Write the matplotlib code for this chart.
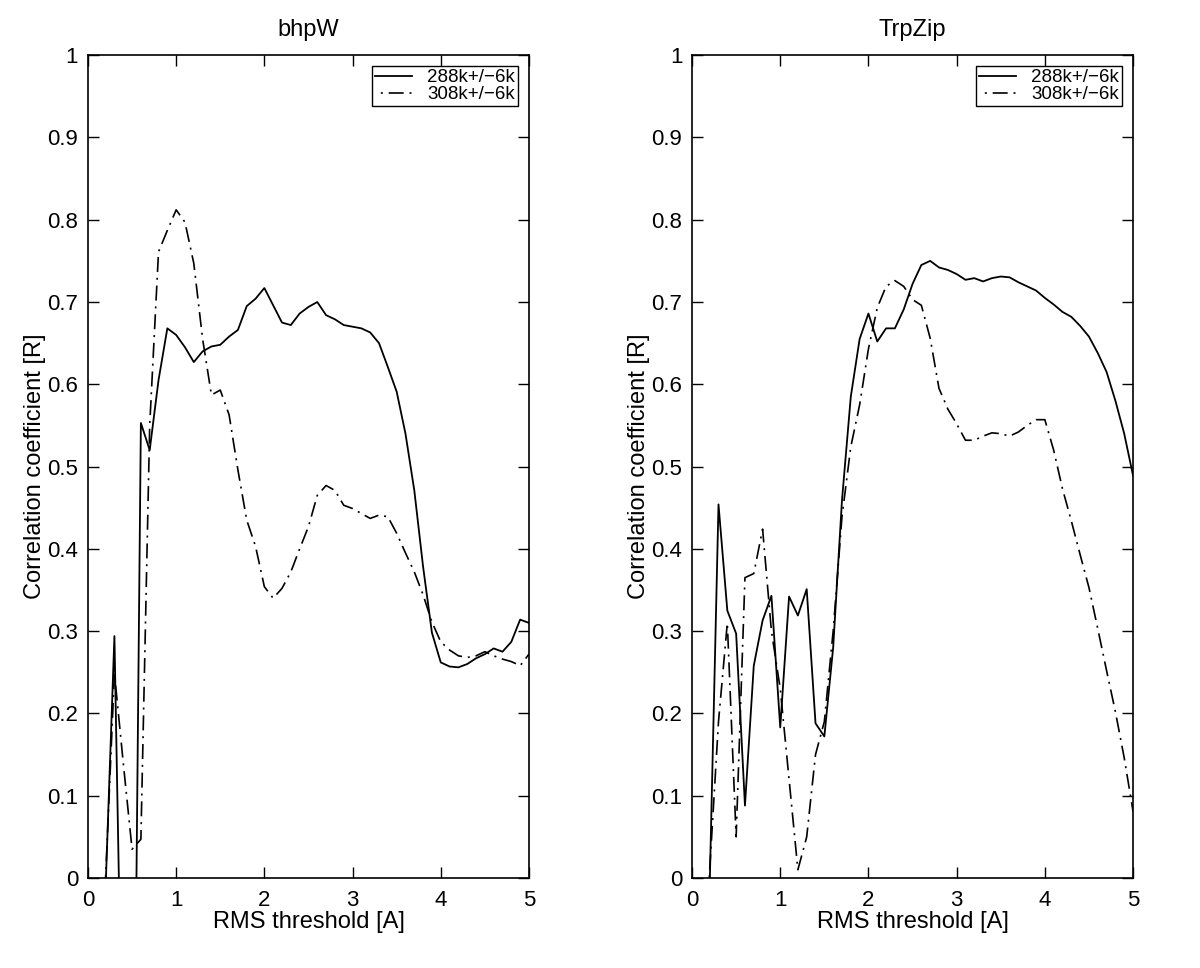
import numpy as np
import matplotlib
matplotlib.use("Agg")
import matplotlib.pyplot as plt

plt.rcParams['font.family'] = ['Liberation Sans', 'DejaVu Sans']

# RMS threshold grid
rms = np.round(np.arange(1, 51) * 0.1, 1)

# bhpW
bhpw_288 = [-0.20, -0.012, 0.294, -0.29, -0.55, 0.553, 0.520, 0.605, 0.668, 0.660,
            0.645, 0.627, 0.640, 0.646, 0.648, 0.658, 0.666, 0.695, 0.704, 0.717,
            0.696, 0.675, 0.672, 0.686, 0.694, 0.700, 0.684, 0.679, 0.672, 0.670,
            0.668, 0.663, 0.650, 0.621, 0.591, 0.540, 0.471, 0.378, 0.298, 0.262,
            0.257, 0.256, 0.260, 0.267, 0.272, 0.279, 0.275, 0.287, 0.314, 0.310]
bhpw_308 = [-0.10, 0.000, 0.249, 0.140, 0.035, 0.047, 0.550, 0.761, 0.787, 0.812,
            0.797, 0.747, 0.655, 0.587, 0.593, 0.563, 0.496, 0.435, 0.403, 0.354,
            0.340, 0.352, 0.372, 0.400, 0.427, 0.465, 0.477, 0.471, 0.453, 0.449,
            0.443, 0.437, 0.441, 0.439, 0.419, 0.395, 0.372, 0.344, 0.311, 0.287,
            0.277, 0.270, 0.268, 0.270, 0.275, 0.270, 0.266, 0.263, 0.258, 0.272]

# TrpZip
trp_288 = [-0.30, -0.010, 0.454, 0.325, 0.297, 0.088, 0.258, 0.313, 0.343, 0.183,
           0.342, 0.319, 0.351, 0.188, 0.172, 0.280, 0.459, 0.585, 0.655, 0.686,
           0.652, 0.668, 0.668, 0.691, 0.722, 0.745, 0.750, 0.742, 0.739, 0.734,
           0.727, 0.729, 0.725, 0.729, 0.731, 0.730, 0.724, 0.719, 0.714, 0.705,
           0.697, 0.688, 0.682, 0.671, 0.658, 0.638, 0.615, 0.580, 0.540, 0.489]
trp_308 = [-0.20, 0.010, 0.190, 0.310, 0.050, 0.365, 0.370, 0.424, 0.300, 0.230,
           0.120, 0.010, 0.050, 0.150, 0.190, 0.300, 0.439, 0.524, 0.575, 0.643,
           0.693, 0.719, 0.726, 0.719, 0.703, 0.696, 0.656, 0.595, 0.570, 0.552,
           0.532, 0.532, 0.537, 0.541, 0.540, 0.537, 0.542, 0.550, 0.557, 0.557,
           0.520, 0.473, 0.434, 0.393, 0.353, 0.303, 0.252, 0.202, 0.146, 0.081]

titles = ['bhpW', 'TrpZip']
labels = ['288k+/\u22126k', '308k+/\u22126k']
series = [(bhpw_288, bhpw_308), (trp_288, trp_308)]

fig = plt.figure(figsize=(12, 9.68), dpi=100)
lefts = [0.0733, 0.5767]
for i in range(2):
    ax = fig.add_axes([lefts[i], 0.093, 0.3675, 0.850])
    s1, s2 = series[i]
    ax.plot(rms, s1, color='black', lw=1.3, ls='-', label=labels[0])
    ax.plot(rms, s2, color='black', lw=1.2, ls=(9, (9, 3.5, 1.2, 3.5)), label=labels[1])
    ax.set_xlim(0, 5)
    ax.set_ylim(0, 1)
    ax.set_xticks(range(6))
    ax.set_xticklabels([str(t) for t in range(6)])
    yt = np.round(np.arange(0, 1.01, 0.1), 1)
    ax.set_yticks(yt)
    ax.set_yticklabels(['0'] + ['%.1f' % v for v in yt[1:-1]] + ['1'])
    ax.tick_params(direction='in', top=True, right=True, length=8, width=1,
                   labelsize=16)
    ax.tick_params(axis='x', pad=9)
    ax.tick_params(axis='y', pad=7)
    for sp in ax.spines.values():
        sp.set_linewidth(1.2)
    ax.set_title(titles[i], fontsize=17, pad=14)
    ax.set_xlabel('RMS threshold [A]', fontsize=17, labelpad=0)
    ax.set_ylabel('Correlation coefficient [R]', fontsize=17, labelpad=1)
    leg = ax.legend(loc='upper right', fontsize=13.5, fancybox=False, framealpha=1,
                    edgecolor='black', borderaxespad=0.6, handlelength=2.0,
                    handletextpad=0.8, borderpad=0.15, labelspacing=0.0)
    leg.get_frame().set_linewidth(1.0)

fig.savefig('out.png', dpi=100)
